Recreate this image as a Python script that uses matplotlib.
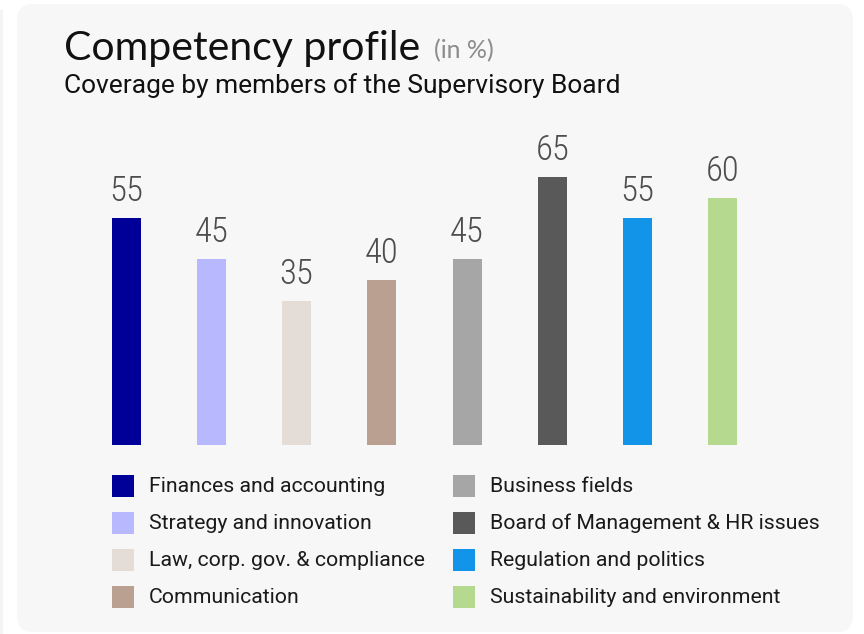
import matplotlib.pyplot as plt
from matplotlib.patches import FancyBboxPatch, Rectangle

categories = ['Finances and accounting', 'Strategy and innovation',
              'Law, corp. gov. & compliance', 'Communication',
              'Business fields', 'Board of Management & HR issues',
              'Regulation and politics', 'Sustainability and environment']
coverage = [55, 45, 35, 40, 45, 65, 55, 60]
colors = ['#000099', '#b8b8ff', '#e4dcd6', '#b9a090',
          '#a6a6a6', '#595959', '#1295e8', '#b5d98f']

W, H = 864, 634
plt.rcParams['font.family'] = ['Roboto', 'DejaVu Sans']

fig = plt.figure(figsize=(W / 100, H / 100), dpi=100)
fig.patch.set_facecolor('white')

# card background (kept behind the axes)
fig.patches.append(Rectangle((0, 0), 2.5, H - 10, transform=None,
                             facecolor='#f4f4f4', edgecolor='none',
                             zorder=-10))
fig.patches.append(FancyBboxPatch((17, 2), 836, 628,
                                  boxstyle='round,pad=0,rounding_size=16',
                                  transform=None, facecolor='#f7f7f7',
                                  edgecolor='none', zorder=-10))

# title lines
fig.text(64 / W, 1 - 60 / H, 'Competency profile', fontsize=29.5,
         family=['Lato', 'DejaVu Sans'], color='#111111', va='baseline')
fig.text(434 / W, 1 - 58 / H, '(in %)', fontsize=18,
         family=['Lato', 'DejaVu Sans'], color='#8c8c8c', va='baseline')
fig.text(64 / W, 1 - 93 / H, 'Coverage by members of the Supervisory Board',
         fontsize=19, color='#111111', va='baseline')

# bars
left, right = 83.5, 765.5
bottom_px, top_px = 445, 445 - 70 * 4.125
ax = fig.add_axes([left / W, 1 - bottom_px / H, (right - left) / W,
                   (bottom_px - top_px) / H])
ax.set_facecolor('none')
x = range(len(coverage))
ax.bar(x, coverage, width=0.34, color=colors)
for xi, v in zip(x, coverage):
    ax.text(xi, v + 2.4, str(v), ha='center', va='bottom', fontsize=25,
            color='#4d4d4d', fontweight='light',
            family=['Roboto Condensed', 'Roboto', 'DejaVu Sans'])
ax.set_xlim(-0.5, 7.5)
ax.set_ylim(0, 70)
ax.axis('off')

# legend in two columns
rows_y = [486, 523, 560, 597]
col_x = [112, 453]
for i, (name, c) in enumerate(zip(categories, colors)):
    cx = col_x[i // 4]
    cy = rows_y[i % 4]
    fig.patches.append(Rectangle((cx, H - cy - 11), 22, 22, transform=None,
                                 facecolor=c, edgecolor='none'))
    fig.text((cx + 37) / W, 1 - (cy + 0.5) / H, name, fontsize=15.3,
             color='#1a1a1a', va='center')

fig.savefig('out.png', dpi=100, facecolor='white')
